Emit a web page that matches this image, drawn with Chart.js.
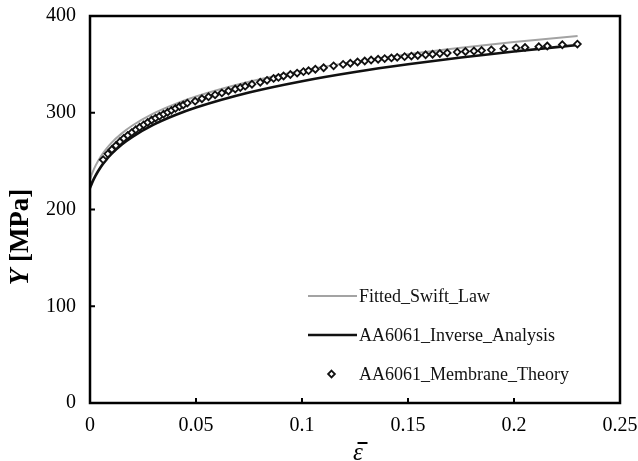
<!DOCTYPE html>
<html>
<head>
<meta charset="utf-8">
<script src="https://cdn.jsdelivr.net/npm/chart.js@4.4.1/dist/chart.umd.min.js"></script>
<style>
  html, body { margin: 0; padding: 0; background: #fff; }
  #wrap { width: 638px; height: 461px; }
</style>
</head>
<body>
<div id="wrap"><canvas id="c" width="638" height="461"></canvas></div>
<script>
// Equivalent plastic strain grid for the two fitted flow curves
const strainGrid = [0, 0.001, 0.0025, 0.005, 0.0075, 0.01, 0.015, 0.02, 0.03, 0.04, 0.05,
                    0.075, 0.1, 0.125, 0.15, 0.175, 0.2, 0.23];
// Flow stress [MPa] of the fitted Swift law
const swiftStress = [231.1, 237.3, 244.8, 254.6, 262.2, 268.6, 278.7, 286.8, 299.3, 308.9, 316.8,
                     332.0, 343.4, 352.6, 360.4, 367.1, 373.1, 379.4];
// Flow stress [MPa] from the inverse analysis
const inverseStress = [222.3, 227.8, 234.6, 243.7, 251.0, 257.2, 267.2, 275.1, 287.7, 297.4, 305.4,
                       320.9, 332.6, 342.1, 350.1, 357.1, 363.3, 370.0];
// Membrane-theory points: strain and stress [MPa]
const membraneStrain = [0.0062, 0.0084, 0.0103, 0.0122, 0.0141, 0.0159, 0.0178, 0.0197, 0.0216, 0.0234,
                        0.0253, 0.0272, 0.0291, 0.0309, 0.0328, 0.0347, 0.0366, 0.0384, 0.0403, 0.0422,
                        0.0440, 0.0459, 0.0496, 0.0528, 0.0559, 0.0590, 0.0622, 0.0653, 0.0685, 0.0709,
                        0.0732, 0.0764, 0.0803, 0.0835, 0.0866, 0.0889, 0.0913, 0.0945, 0.0977, 0.1007,
                        0.1031, 0.1063, 0.1102, 0.1149, 0.1194, 0.1228, 0.1262, 0.1296, 0.1326, 0.1359,
                        0.1390, 0.1422, 0.1449, 0.1484, 0.1516, 0.1546, 0.1583, 0.1616, 0.1650, 0.1685,
                        0.1732, 0.1771, 0.1811, 0.1847, 0.1893, 0.1952, 0.2010, 0.2052, 0.2117, 0.2157,
                        0.2228, 0.2299];
const membraneStress = [251.5, 257.5, 262.0, 266.0, 270.0, 273.5, 276.5, 279.5, 282.5, 285.0,
                        287.5, 290.0, 292.5, 294.5, 296.5, 298.5, 300.5, 302.5, 304.5, 306.5,
                        308.0, 310.0, 312.0, 314.5, 316.5, 318.5, 320.5, 322.5, 324.5, 326.0,
                        327.5, 329.5, 331.5, 333.5, 335.5, 336.5, 338.0, 339.5, 341.0, 342.5,
                        343.5, 345.0, 346.5, 348.5, 350.0, 351.2, 352.5, 353.5, 354.5, 355.3,
                        356.0, 356.7, 357.3, 358.0, 358.6, 359.2, 359.9, 360.5, 361.2, 361.8,
                        362.7, 363.3, 363.8, 364.3, 365.0, 366.2, 367.0, 367.5, 368.3, 369.0,
                        370.3, 371.0];
const seriesNames = ['Fitted_Swift_Law', 'AA6061_Inverse_Analysis', 'AA6061_Membrane_Theory'];
const xTicks = [0, 0.05, 0.1, 0.15, 0.2, 0.25];
const yTicks = [0, 100, 200, 300, 400];
const xTitle = 'ε';
const yTitle = ['Y', ' [MPa]'];

const SERIF = '"Liberation Serif", "Times New Roman", serif';

const toPoints = (xs, ys) => xs.map((v, i) => ({ x: v, y: ys[i] }));

// Closed frame, inward tick marks, axis titles and the in-plot legend
const decorations = {
  id: 'decorations',
  afterDatasetsDraw(chart) {
    const { ctx, chartArea: a, scales: { x, y } } = chart;
    ctx.save();
    ctx.strokeStyle = '#000';
    ctx.lineWidth = 2.5;
    ctx.strokeRect(a.left, a.top, a.right - a.left, a.bottom - a.top);
    ctx.lineWidth = 2;
    ctx.beginPath();
    x.ticks.forEach(t => {
      const px = x.getPixelForValue(t.value);
      if (px > a.left + 2 && px < a.right - 2) { ctx.moveTo(px, a.bottom); ctx.lineTo(px, a.bottom - 5); }
    });
    y.ticks.forEach(t => {
      const py = y.getPixelForValue(t.value);
      if (py > a.top + 2 && py < a.bottom - 2) { ctx.moveTo(a.left, py); ctx.lineTo(a.left + 5, py); }
    });
    ctx.stroke();
    ctx.restore();
  },
  afterDraw(chart) {
    const { ctx, chartArea: a } = chart;
    ctx.save();
    ctx.fillStyle = '#000';

    // y-axis title: italic bold symbol followed by bold unit
    ctx.translate(21, 237);
    ctx.rotate(-Math.PI / 2);
    ctx.textBaseline = 'middle';
    ctx.textAlign = 'left';
    const f1 = 'italic bold 27px ' + SERIF, f2 = 'bold 27px ' + SERIF;
    ctx.font = f1; const w1 = ctx.measureText(yTitle[0]).width;
    ctx.font = f2; const w2 = ctx.measureText(yTitle[1]).width;
    const sx = -(w1 + w2) / 2;
    ctx.font = f1; ctx.fillText(yTitle[0], sx, 0);
    ctx.font = f2; ctx.fillText(yTitle[1], sx + w1, 0);
    ctx.setTransform(1, 0, 0, 1, 0, 0);

    // x-axis title: epsilon with an overbar
    const cx = (a.left + a.right) / 2 + 3;
    ctx.font = 'italic 25px ' + SERIF;
    ctx.textAlign = 'center';
    ctx.textBaseline = 'alphabetic';
    ctx.fillText(xTitle, cx, 460);
    ctx.strokeStyle = '#000';
    ctx.lineWidth = 2;
    ctx.beginPath();
    ctx.moveTo(cx - 0.5, 443);
    ctx.lineTo(cx + 9.5, 443);
    ctx.stroke();

    // legend
    const rows = [296, 335, 374];
    const lineX0 = 308, lineX1 = 357, textX = 359;
    ctx.font = '18px ' + SERIF;
    ctx.textAlign = 'left';
    ctx.textBaseline = 'middle';
    chart.data.datasets.forEach((ds, i) => {
      const ry = rows[i];
      if (ds.showLine) {
        ctx.strokeStyle = ds.borderColor;
        ctx.lineWidth = ds.borderWidth;
        ctx.beginPath();
        ctx.moveTo(lineX0, ry);
        ctx.lineTo(lineX1, ry);
        ctx.stroke();
      } else {
        const r = ds.pointRadius, px = (lineX0 + lineX1) / 2 - 1;
        ctx.fillStyle = ds.pointBackgroundColor;
        ctx.strokeStyle = ds.pointBorderColor;
        ctx.lineWidth = ds.pointBorderWidth;
        ctx.beginPath();
        ctx.moveTo(px, ry - r); ctx.lineTo(px + r, ry); ctx.lineTo(px, ry + r); ctx.lineTo(px - r, ry);
        ctx.closePath(); ctx.fill(); ctx.stroke();
      }
      ctx.fillStyle = '#111';
      ctx.fillText(ds.label, textX, ry + 1);
    });
    ctx.restore();
  }
};

new Chart(document.getElementById('c'), {
  type: 'scatter',
  data: {
    datasets: [
      {
        label: seriesNames[0],
        data: toPoints(strainGrid, swiftStress),
        showLine: true,
        borderColor: '#a3a3a3',
        borderWidth: 2,
        pointRadius: 0,
        cubicInterpolationMode: 'monotone',
        order: 2
      },
      {
        label: seriesNames[1],
        data: toPoints(strainGrid, inverseStress),
        showLine: true,
        borderColor: '#111111',
        borderWidth: 2.7,
        pointRadius: 0,
        cubicInterpolationMode: 'monotone',
        order: 1
      },
      {
        label: seriesNames[2],
        data: toPoints(membraneStrain, membraneStress),
        showLine: false,
        pointStyle: 'rectRot',
        pointRadius: 3.4,
        pointBorderWidth: 1.8,
        pointBackgroundColor: '#ffffff',
        pointBorderColor: '#111111',
        order: 0
      }
    ]
  },
  options: {
    responsive: false,
    animation: false,
    devicePixelRatio: 1,
    layout: { padding: { top: 16, right: 18, left: 0, bottom: 0 } },
    plugins: { legend: { display: false }, tooltip: { enabled: false } },
    scales: {
      x: {
        type: 'linear',
        min: 0, max: 0.25,
        afterBuildTicks: s => { s.ticks = xTicks.map(v => ({ value: v })); },
        afterFit: s => { s.height = 58; s.paddingLeft = 0; s.paddingRight = 0; },
        grid: { display: false, drawTicks: false },
        border: { display: false },
        ticks: {
          color: '#000',
          font: { family: SERIF, size: 20 },
          padding: 11,
          maxRotation: 0,
          callback: v => String(v)
        }
      },
      y: {
        type: 'linear',
        min: 0, max: 400,
        afterBuildTicks: s => { s.ticks = yTicks.map(v => ({ value: v })); },
        afterFit: s => { s.width = 90; s.paddingTop = 0; s.paddingBottom = 0; },
        grid: { display: false, drawTicks: false },
        border: { display: false },
        ticks: {
          color: '#000',
          font: { family: SERIF, size: 20 },
          padding: 14,
          callback: v => String(v)
        }
      }
    }
  },
  plugins: [decorations]
});
</script>
</body>
</html>
